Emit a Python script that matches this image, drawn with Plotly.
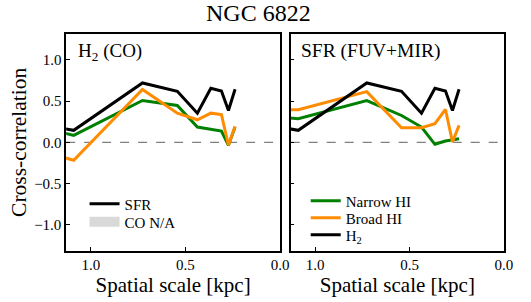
import plotly.graph_objects as go

# ---- data ----
scales = [1.14, 1.09, 0.727, 0.543, 0.437, 0.366, 0.31, 0.273, 0.238]

h2_sfr = [0.165, 0.145, 0.719, 0.618, 0.353, 0.655, 0.622, 0.386, 0.643]
h2_narrow = [0.112, 0.084, 0.506, 0.446, 0.185, 0.16, 0.137, -0.036, 0.185]
h2_broad = [-0.185, -0.217, 0.639, 0.353, 0.273, 0.353, 0.337, -0.036, 0.193]

sfr_narrow = [0.297, 0.285, 0.506, 0.325, 0.185, -0.024, 0.016, 0.032, 0.044]
sfr_broad = [0.394, 0.394, 0.614, 0.177, 0.177, 0.225, 0.398, 0.004, 0.205]
sfr_h2 = h2_sfr

xticks = [1.0, 0.5, 0.0]
xticklabels = ["1.0", "0.5", "0.0"]
yticks = [1.0, 0.5, 0.0, -0.5, -1.0]
yticklabels = ["1.0", "0.5", "0.0", "\u22120.5", "\u22121.0"]

GREEN = "#008000"
ORANGE = "#ff8c00"
BLACK = "#000000"
FONT = "Times New Roman, Liberation Serif, Nimbus Roman, serif"
LW = 3
W, H = 531, 302

fig = go.Figure()

# left panel: H2 (CO)
fig.add_trace(go.Scatter(x=scales, y=h2_narrow, mode="lines", line=dict(color=GREEN, width=LW),
                         xaxis="x", yaxis="y", showlegend=False))
fig.add_trace(go.Scatter(x=scales, y=h2_broad, mode="lines", line=dict(color=ORANGE, width=LW),
                         xaxis="x", yaxis="y", showlegend=False))
fig.add_trace(go.Scatter(x=scales, y=h2_sfr, mode="lines", line=dict(color=BLACK, width=LW),
                         xaxis="x", yaxis="y", name="SFR", legend="legend"))
fig.add_trace(go.Scatter(x=[None], y=[None], mode="lines",
                         line=dict(color="#d9d9d9", width=10), xaxis="x", yaxis="y",
                         name="CO N/A", legend="legend2"))

# right panel: SFR
fig.add_trace(go.Scatter(x=scales, y=sfr_narrow, mode="lines", line=dict(color=GREEN, width=LW),
                         xaxis="x2", yaxis="y2", name="Narrow HI", legend="legend3"))
fig.add_trace(go.Scatter(x=scales, y=sfr_broad, mode="lines", line=dict(color=ORANGE, width=LW),
                         xaxis="x2", yaxis="y2", name="Broad HI", legend="legend4"))
fig.add_trace(go.Scatter(x=scales, y=sfr_h2, mode="lines", line=dict(color=BLACK, width=LW),
                         xaxis="x2", yaxis="y2", name="H<sub>2</sub>", legend="legend5"))

ydom = [0.1705, 0.887]
xd1 = [0.1267, 0.5367]
xd2 = [0.5569, 0.9655]

axis_common = dict(showline=True, linecolor="black", linewidth=1.5, mirror=True,
                   ticks="inside", ticklen=4, tickcolor="black", showgrid=False, zeroline=False,
                   tickfont=dict(family=FONT, size=15, color="black"))


def leg(px, py):
    return dict(x=px / W, y=1 - py / H, xanchor="left", yanchor="middle",
                bgcolor="rgba(0,0,0,0)", font=dict(family=FONT, size=15, color="black"),
                itemwidth=30)


fig.update_layout(
    width=W, height=H,
    margin=dict(l=0, r=0, t=0, b=0),
    paper_bgcolor="white", plot_bgcolor="white",
    font=dict(family=FONT, color="black"),
    xaxis=dict(domain=xd1, range=[1.13, 0.0], tickvals=xticks, ticktext=xticklabels,
               anchor="y", title=dict(text="Spatial scale [kpc]", font=dict(family=FONT, size=21), standoff=0),
               **axis_common),
    yaxis=dict(domain=ydom, range=[-1.31, 1.31], tickvals=yticks, ticktext=yticklabels,
               anchor="x", title=dict(text="Cross-correlation", font=dict(family=FONT, size=21.5), standoff=2),
               **axis_common),
    xaxis2=dict(domain=xd2, range=[1.13, 0.0], tickvals=xticks, ticktext=xticklabels,
                anchor="y2", title=dict(text="Spatial scale [kpc]", font=dict(family=FONT, size=21), standoff=0),
                **axis_common),
    yaxis2=dict(domain=ydom, range=[-1.31, 1.31], tickvals=yticks, showticklabels=False,
                anchor="x2", **axis_common),
    legend=leg(86, 204),
    legend2=leg(86, 222),
    legend3=leg(311, 201),
    legend4=leg(311, 218),
    legend5=leg(311, 235),
    shapes=[
        dict(type="line", xref="x domain", yref="y", x0=0, x1=1, y0=0, y1=0,
             line=dict(color="grey", width=1.3, dash="dash"), layer="below"),
        dict(type="line", xref="x2 domain", yref="y2", x0=0, x1=1, y0=0, y1=0,
             line=dict(color="grey", width=1.3, dash="dash"), layer="below"),
    ],
    annotations=[
        dict(text="NGC 6822", xref="paper", yref="paper", x=0.495, y=1.005, xanchor="center",
             yanchor="top", showarrow=False, font=dict(family=FONT, size=24)),
        dict(text="H<sub>2</sub> (CO)", xref="x domain", yref="y domain", x=0.045, y=0.98,
             xanchor="left", yanchor="top", showarrow=False, font=dict(family=FONT, size=19)),
        dict(text="SFR (FUV+MIR)", xref="x2 domain", yref="y2 domain", x=0.04, y=0.98,
             xanchor="left", yanchor="top", showarrow=False, font=dict(family=FONT, size=19.5)),
    ],
)

fig.write_html("out.html", config={"displayModeBar": False},
               post_script="document.body.style.margin='0';")
